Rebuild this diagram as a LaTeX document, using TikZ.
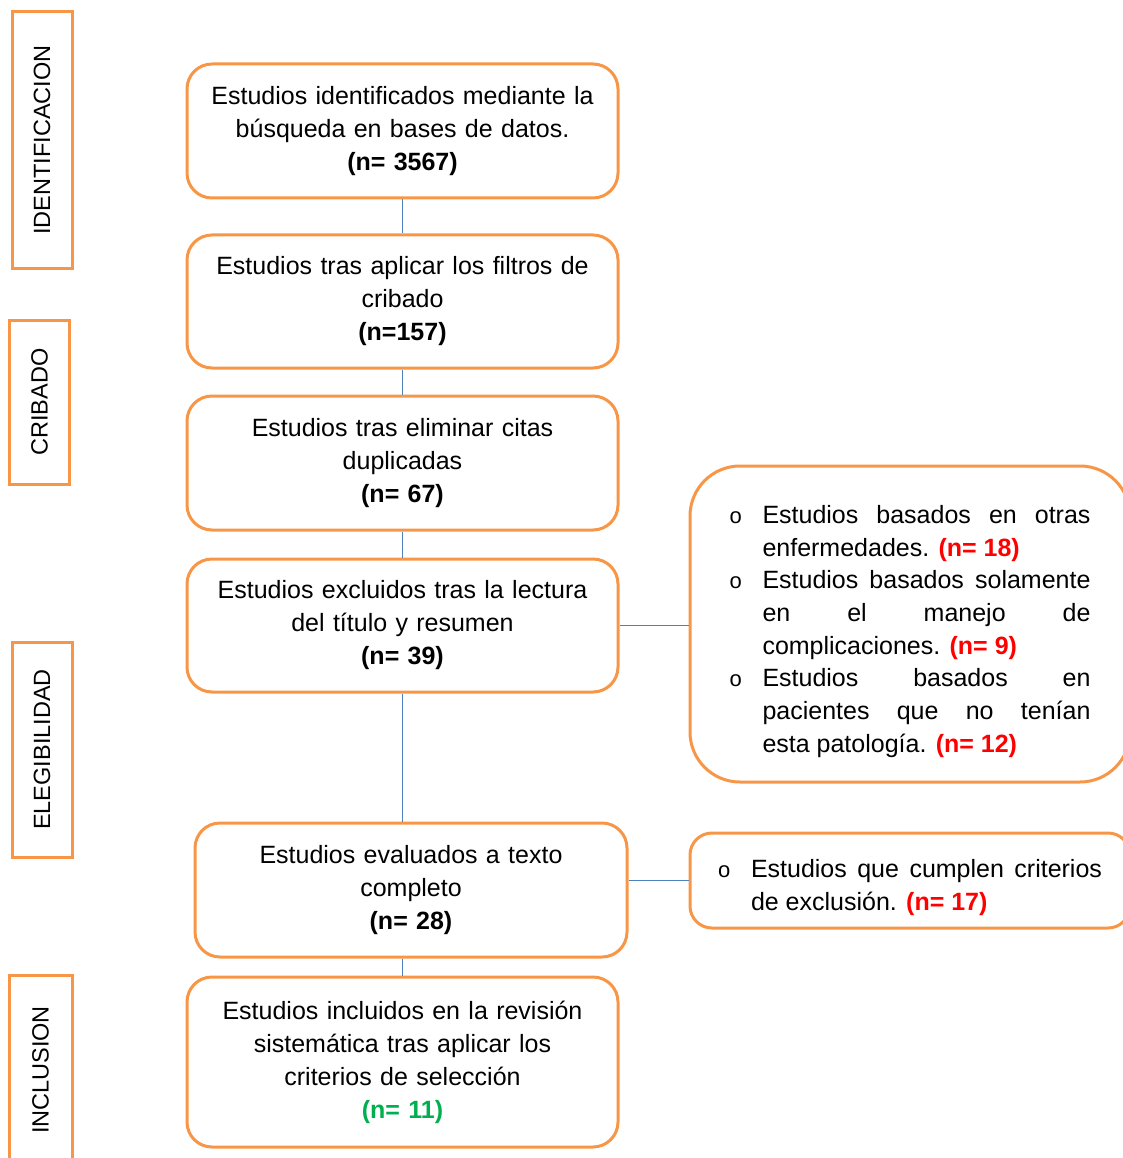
\documentclass[tikz,border=0pt]{standalone}
\usepackage{fontspec}
\setmainfont{Liberation Sans}
\usepackage{tikz}

\definecolor{boxorange}{RGB}{247,150,70}
\definecolor{lineblue}{RGB}{79,129,189}
\definecolor{nred}{RGB}{255,0,0}
\definecolor{ngreen}{RGB}{0,176,80}

\newcommand{\bulitem}[1]{\par\hyphenpenalty=10000 \tolerance=10000 \noindent\hangindent=33pt\hangafter=1\makebox[33pt][l]{\fontsize{22}{22}\selectfont o}#1\par}

\tikzset{
  stage/.style={draw=boxorange, line width=3pt, rounded corners=25pt, align=center,
    text width=420pt, minimum width=431pt, minimum height=134pt, inner xsep=0pt,
    font=\fontsize{25}{33}\selectfont},
  phase/.style={draw=boxorange, line width=3pt, rotate=90, minimum height=60pt,
    font=\fontsize{23.5}{28}\selectfont},
  excl/.style={draw=boxorange, line width=3pt, align=justify, text width=361pt,
    minimum width=440pt, inner xsep=0pt,
    font=\fontsize{25}{32.7}\selectfont},
  link/.style={draw=lineblue, line width=1.5pt}
}

\begin{document}
\begin{tikzpicture}[x=1pt,y=-1pt]
            \useasboundingbox (0,0) rectangle (1123,1158);

            % Phases
            \node[phase, minimum width=256pt] (ident) at (42,140) {IDENTIFICACION};
            \node[phase, minimum width=164pt] (crib) at (39.5,402) {CRIBADO};
            \node[phase, minimum width=215pt] (eleg) at (42,749.5) {ELEGIBILIDAD};
            \node[phase, minimum width=190pt, minimum height=63pt] (incl) at (40.5,1070) {INCLUSION};

            % Stages
            \node[stage] (s1) at (402.5,131) {Estudios identificados mediante la\\b\'usqueda en bases de datos.\\\textbf{(n= 3567)}};
            \node[stage, minimum height=133pt] (s2) at (402.5,301.5) {Estudios tras aplicar los filtros de\\cribado\\\textbf{(n=157)}};
            \node[stage] (s3) at (402.5,463) {Estudios tras eliminar citas\\duplicadas\\\textbf{(n= 67)}};
            \node[stage, minimum height=133pt] (s4) at (402.5,625.5) {Estudios excluidos tras la lectura\\del t\'itulo y resumen\\\textbf{(n= 39)}};
            \node[stage, minimum width=432pt] (s5) at (411,890) {Estudios evaluados a texto\\completo\\\textbf{(n= 28)}};
            \node[stage, minimum height=170pt] (s6) at (402.5,1062) {Estudios incluidos en la revisi\'on\\sistem\'atica tras aplicar los\\criterios de selecci\'on\\\textbf{\textcolor{ngreen}{(n= 11)}}};

            % Exclusions
            \node[excl, rounded corners=50pt, minimum height=316pt] (e1) at (910,624) {%
              \bulitem{Estudios basados en otras\linebreak enfermedades. \textbf{\textcolor{nred}{(n= 18)}}}%
              \bulitem{Estudios basados solamente\linebreak en el manejo de\linebreak complicaciones. \textbf{\textcolor{nred}{(n= 9)}}}%
              \bulitem{Estudios basados en\linebreak pacientes que no ten\'ian\linebreak esta patolog\'ia. \textbf{\textcolor{nred}{(n= 12)}}}};
            \node[excl, rounded corners=22pt, minimum height=95pt, text width=384pt] (e2) at (910,880.5) {%
              \bulitem{Estudios que cumplen criterios\linebreak de exclusi\'on. \textbf{\textcolor{nred}{(n= 17)}}}};

            % Lines
            \draw[link] (s1) -- (s2);
            \draw[link] (s2) -- (s3);
            \draw[link] (s3) -- (s4);
            \draw[link] (s4.south) -- (s4.south |- s5.north);
            \draw[link] (s6.north |- s5.south) -- (s6.north);
            \draw[link] (s4.east) -- (s4.east -| e1.west);
            \draw[link] (e2.west -| s5.east) -- (e2.west);
        \end{tikzpicture}
\end{document}
